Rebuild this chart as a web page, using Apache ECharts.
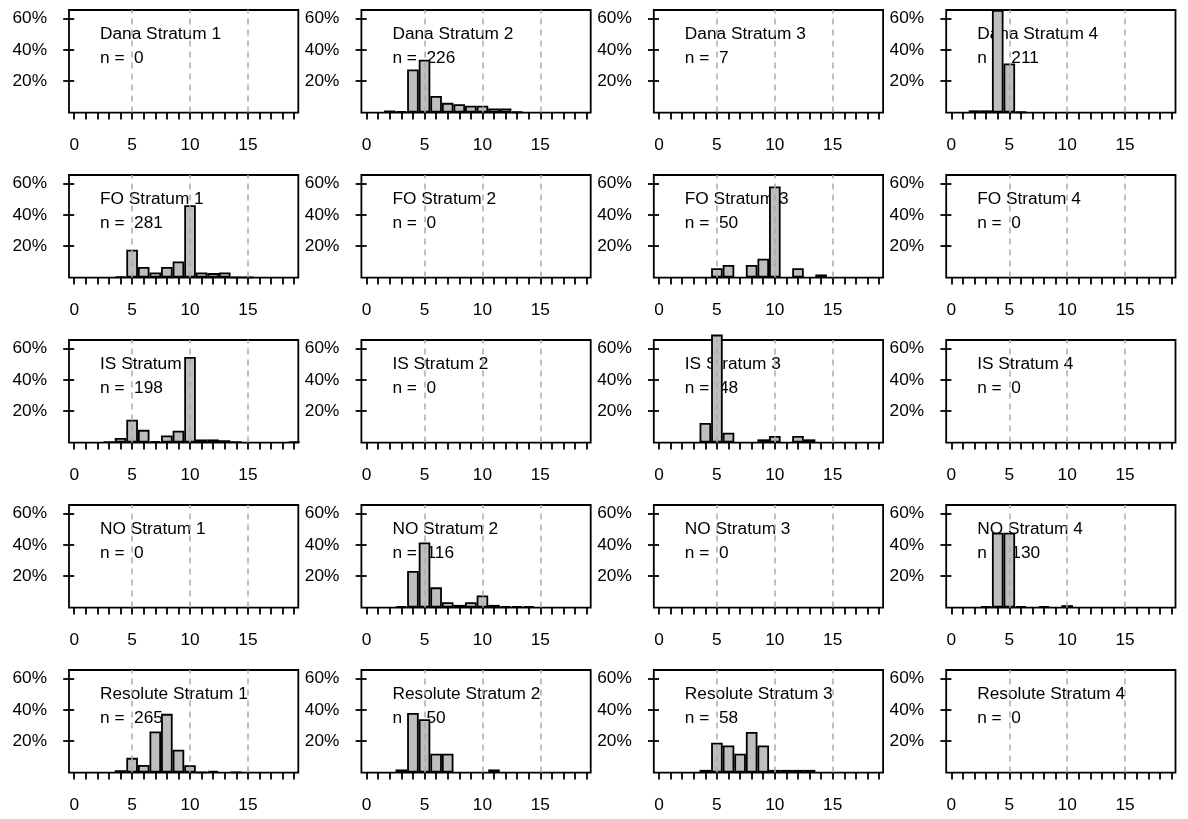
<!DOCTYPE html>
<html>
<head>
<meta charset="utf-8">
<title>Stratum histograms</title>
<script src="https://cdn.jsdelivr.net/npm/echarts@6/dist/echarts.min.js"></script>
<style>
    html, body { margin: 0; padding: 0; background: #fff; }
    #chart { width: 1188px; height: 819px; }
</style>
</head>
<body>
<div id="chart"></div>
<script>
// integer classes on the x axis, labels every 5
var bins = [0, 1, 2, 3, 4, 5, 6, 7, 8, 9, 10, 11, 12, 13, 14, 15, 16, 17, 18, 19];
var xLabelValues = [0, 5, 10, 15];
var yTickValues = [20, 40, 60];
var refLines = [5, 10, 15];

var sites = ['Dana', 'FO', 'IS', 'NO', 'Resolute'];
var strata = [1, 2, 3, 4];

// sample sizes, one array per site (stratum 1..4)
var nDana = [0, 226, 7, 211];
var nFO = [281, 0, 50, 0];
var nIS = [198, 0, 48, 0];
var nNO = [0, 116, 0, 130];
var nResolute = [265, 50, 58, 0];

// percent of fish in each class (index = class 0..19)
var noBars = [];
var danaS2 = [0, 0, 1.33, 0.88, 27.4, 33.6, 10.6, 6.2, 5.3, 4.4, 4.4, 2.65, 2.65, 0.44, 0, 0, 0, 0, 0, 0];
var danaS4 = [0, 0, 1.42, 1.42, 65.4, 31.3, 0.47, 0, 0, 0, 0, 0, 0, 0, 0, 0, 0, 0, 0, 0];
var foS1 = [0, 0, 0, 0, 0.71, 17.7, 6.76, 3.2, 6.76, 10.3, 46, 3.2, 2.85, 3.2, 0.36, 0.36, 0, 0, 0, 0];
var foS3 = [0, 0, 0, 0, 0, 6, 8, 0, 8, 12, 58, 0, 6, 0, 2, 0, 0, 0, 0, 0];
var isS1 = [0, 0, 0, 0.5, 3, 14.6, 8.1, 1, 4.5, 7.6, 54.5, 2, 2, 1.5, 0.5, 0, 0, 0, 0, 0.5];
var isS3 = [0, 0, 0, 0, 12.5, 68.75, 6.25, 0, 0, 2.08, 4.17, 0, 4.17, 2.08, 0, 0, 0, 0, 0, 0];
var noS2 = [0, 0, 0, 0.86, 23.3, 41.4, 12.9, 3.45, 1.72, 3.45, 7.76, 1.72, 0.86, 0.86, 0.86, 0, 0, 0, 0, 0];
var noS4 = [0, 0, 0, 0.77, 47.7, 47.7, 0.77, 0, 0.77, 0, 1.54, 0, 0, 0, 0, 0, 0, 0, 0, 0];
var resS1 = [0, 0, 0, 0, 1.5, 9.4, 4.9, 26.2, 37.4, 14.5, 4.7, 0.38, 1.13, 0, 0.38, 0, 0, 0, 0, 0];
var resS2 = [0, 0, 0, 2, 38, 34, 12, 12, 0, 0, 0, 2, 0, 0, 0, 0, 0, 0, 0, 0];
var resS3 = [0, 0, 0, 0, 1.72, 18.97, 17.24, 12.07, 25.86, 17.24, 1.72, 1.72, 1.72, 1.72, 0, 0, 0, 0, 0, 0];

var siteN = [nDana, nFO, nIS, nNO, nResolute];
var sitePct = [
    [noBars, danaS2, noBars, danaS4],
    [foS1, noBars, foS3, noBars],
    [isS1, noBars, isS3, noBars],
    [noBars, noS2, noBars, noS4],
    [resS1, resS2, resS3, noBars]
];

var font = '"Liberation Sans", Arial, sans-serif';
var fontSize = 17.3;
var lineW = 1.8;
var grids = [], xAxes = [], yAxes = [], series = [], titles = [];

sites.forEach(function (site, r) {
    strata.forEach(function (s, c) {
        var k = grids.length;
        var left = 69 + c * 292.4;
        var top = 10 + r * 165;
        var pct = sitePct[r][c];
        var data = [];
        bins.forEach(function (b, i) {
            if (pct[i] > 0) data.push([b, pct[i]]);
        });

        grids.push({
            left: left, top: top, width: 229.3, height: 102.6,
            show: true, borderColor: '#000', borderWidth: lineW, backgroundColor: 'transparent'
        });
        xAxes.push({
            gridIndex: k, type: 'value', min: -0.45, max: 19.35,
            position: 'bottom', offset: 3,
            axisLine: { show: false },
            splitLine: { show: false },
            axisTick: { show: true, customValues: bins, length: 7, lineStyle: { color: '#000', width: lineW } },
            axisLabel: { customValues: xLabelValues, margin: 21, fontSize: fontSize, color: '#000', fontFamily: font }
        });
        yAxes.push({
            gridIndex: k, type: 'value', min: 0, max: 65.3,
            axisLine: { show: false },
            splitLine: { show: false },
            axisTick: { show: true, customValues: yTickValues, length: 11, lineStyle: { color: '#000', width: lineW } },
            axisLabel: { customValues: yTickValues, formatter: '{value}%', margin: 22, fontSize: fontSize, color: '#000', fontFamily: font }
        });
        series.push({
            type: 'bar', xAxisIndex: k, yAxisIndex: k,
            data: data, barWidth: 11.6, clip: false, z: 3,
            itemStyle: { color: '#BEBEBE', borderColor: '#000', borderWidth: lineW },
            silent: true,
            markLine: {
                silent: true, symbol: ['none', 'none'], z: 5,
                label: { show: false },
                lineStyle: { color: '#AAAAAA', type: [6, 5], width: 1.5 },
                data: refLines.map(function (v) { return { xAxis: v }; }).concat([
                    // short stub of the zero line running out past the right edge of the box
                    [
                        { coord: [19.35, 0], lineStyle: { color: '#000', type: 'solid', width: lineW } },
                        { coord: [20.4, 0] }
                    ]
                ])
            }
        });
        titles.push({
            text: site + ' Stratum ' + s + '\nn =  ' + siteN[r][c],
            left: 100 + c * 292.4, top: 22 + r * 165, padding: 0, z: 1,
            textStyle: { fontSize: fontSize, fontWeight: 'normal', color: '#000', lineHeight: 24, fontFamily: font }
        });
    });
});

var chart = echarts.init(document.getElementById('chart'));
chart.setOption({
    animation: false,
    backgroundColor: '#fff',
    title: titles,
    grid: grids,
    xAxis: xAxes,
    yAxis: yAxes,
    series: series
});
</script>
</body>
</html>
